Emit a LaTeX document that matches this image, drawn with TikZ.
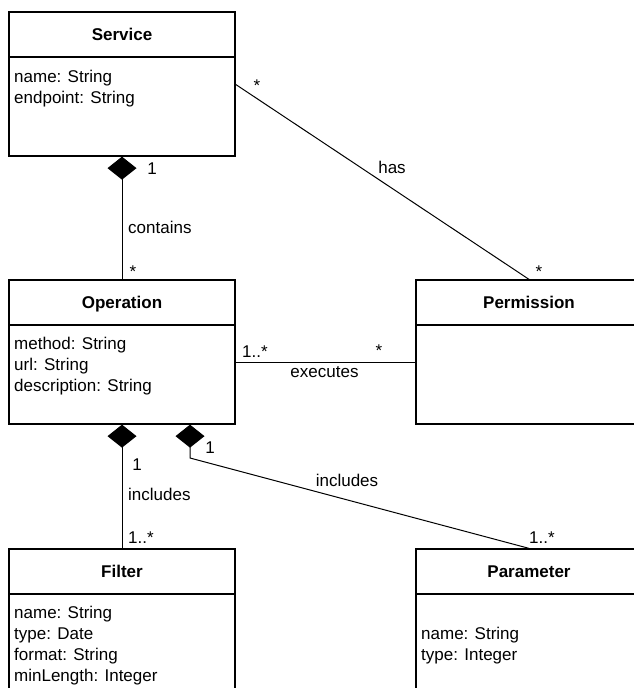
\documentclass[tikz,border=0pt]{standalone}
\usepackage{fontspec}
\setmainfont{Liberation Sans}
\usetikzlibrary{arrows.meta}
\tikzset{
  classhead/.style={draw, line width=1.3pt, minimum width=226pt, minimum height=45pt, inner sep=0pt,
    text height=12pt, text depth=0pt, font={\fontsize{17}{21}\selectfont\bfseries}},
  classbody/.style={draw, line width=1.3pt, minimum width=226pt, minimum height=99pt, inner sep=0pt},
  attr/.style={anchor=base west, inner sep=0pt, font={\fontsize{17}{21}\selectfont}},
  lbl/.style={anchor=base, inner sep=0pt, font={\fontsize{17}{21}\selectfont}},
  assoc/.style={line width=1pt},
  comp/.style={line width=1pt, {Diamond[length=23pt, width=29pt]}-}
}

\begin{document}
\begin{tikzpicture}[x=1pt, y=-1pt]
\useasboundingbox (0,0) rectangle (633,688);
\node[classhead] (service) at (122,34.5) {Service};
\node[classbody] (servicebody) at (122,106.5) {};
\foreach \a [count=\i] in {name: String, endpoint: String}
  \node[attr] (serviceattr\i) at (14,61+21*\i) {\a};
\node[classhead] (operation) at (122,302.5) {Operation};
\node[classbody] (operationbody) at (122,374.5) {};
\foreach \a [count=\i] in {method: String, url: String, description: String}
  \node[attr] (operationattr\i) at (14,328+21*\i) {\a};
\node[classhead] (permission) at (529,302.5) {Permission};
\node[classbody] (permissionbody) at (529,374.5) {};
\node[classhead] (filter) at (122,571.5) {Filter};
\node[classbody] (filterbody) at (122,643.5) {};
\foreach \a [count=\i] in {name: String, type: Date, format: String, minLength: Integer}
  \node[attr] (filterattr\i) at (14,597+21*\i) {\a};
\node[classhead] (parameter) at (529,571.5) {Parameter};
\node[classbody] (parameterbody) at (529,643.5) {};
\foreach \a [count=\i] in {name: String, type: Integer}
  \node[attr] (parameterattr\i) at (421,618+21*\i) {\a};

\draw[comp] (servicebody.south) -- (operation.north);
\draw[assoc] (servicebody.11.26) -- (permission.north);
\draw[assoc] ([yshift=12pt]operationbody.east) -- ([yshift=12pt]permissionbody.west);
\draw[comp] (operationbody.south) -- (filter.north);
\coordinate (parambend) at (190,458);
\draw[comp] (parambend |- operationbody.south) -- (parambend) -- (parameter.north);

\node[lbl] (hasfrom) at (257,91) {*};
\node[lbl] (hasname) at (392,173) {has};
\node[lbl] (hasto) at (539,277) {*};
\node[lbl] (containsfrom) at (152,174) {1};
\node[lbl, anchor=base west] (containsname) at (128,233) {contains};
\node[lbl] (containsto) at (133,277) {*};
\node[lbl, anchor=base west] (executesfrom) at (242,357) {1..*};
\node[lbl] (executesto) at (379,356) {*};
\node[lbl] (executesname) at (324.5,377) {executes};
\node[lbl] (filterfrom) at (137,470) {1};
\node[lbl, anchor=base west] (filtername) at (128,500) {includes};
\node[lbl, anchor=base west] (filterto) at (128,543) {1..*};
\node[lbl] (paramfrom) at (210,453) {1};
\node[lbl] (paramname) at (347,486) {includes};
\node[lbl, anchor=base west] (paramto) at (529,543) {1..*};
\end{tikzpicture}
\end{document}
